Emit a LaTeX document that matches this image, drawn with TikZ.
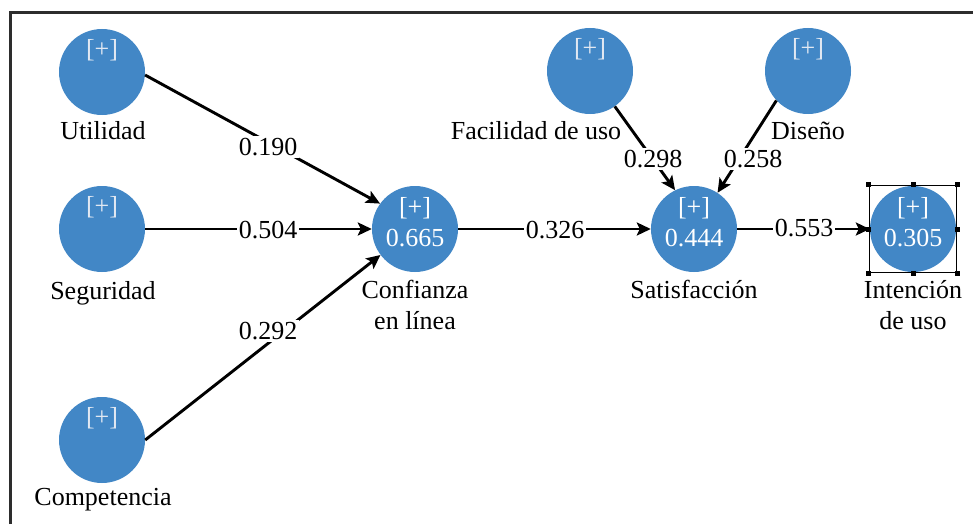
\documentclass[tikz,border=0pt]{standalone}
\usepackage{fontspec}
\setmainfont{Liberation Serif}
\usetikzlibrary{arrows.meta,calc}
\definecolor{lvblue}{RGB}{66,135,198}
\definecolor{plusgray}{RGB}{225,232,242}
\definecolor{framegray}{RGB}{45,45,45}
\begin{document}
\begin{tikzpicture}[x=1pt,y=-1pt,
  lv/.style={circle,fill=lvblue,minimum size=86pt,inner sep=0pt},
  txt/.style={font=\fontsize{26}{30}\selectfont,inner sep=0pt},
  lvname/.style={txt,anchor=base},
  plus/.style={txt,text=plusgray},
  val/.style={txt,text=white},
  coef/.style={txt,fill=white,inner sep=2pt},
  edge/.style={line width=2.9pt,-{Stealth[length=14pt,width=13pt,inset=3pt]}},
  handle/.style={fill=black,minimum size=5pt,inner sep=0pt}]
\useasboundingbox (0,0) rectangle (973,524);
% frame
\draw[line width=3pt,framegray] (10,524) -- (10,13) -- (973,13);

% latent variables
\node[lv] (util) at (102,72) {};
\node[lv] (seg)  at (102,229) {};
\node[lv] (comp) at (102,440) {};
\node[lv] (conf) at (415,229) {};
\node[lv] (fac)  at (590,71) {};
\node[lv] (dis)  at (808,71) {};
\node[lv] (sat)  at (694,229) {};
\node[lv] (intn) at (913,229) {};

% texts inside circles
\node[plus] (p1) at ($(util)+(0,-22)$) {[+]};
\node[plus] (p2) at ($(seg)+(0,-22)$) {[+]};
\node[plus] (p3) at ($(comp)+(0,-22)$) {[+]};
\node[plus] (p4) at ($(fac)+(0,-22)$) {[+]};
\node[plus] (p5) at ($(dis)+(0,-22)$) {[+]};
\node[val] (p6) at ($(conf)+(0,-21)$) {[+]};
\node[val] (v6) at ($(conf)+(0,9)$) {0.665};
\node[val] (p7) at ($(sat)+(0,-21)$) {[+]};
\node[val] (v7) at ($(sat)+(0,9)$) {0.444};
\node[val] (p8) at ($(intn)+(0,-21)$) {[+]};
\node[val] (v8) at ($(intn)+(0,9)$) {0.305};

% names
\node[lvname] (nutil) at (103,139) {Utilidad};
\node[lvname] (nseg)  at (103,299) {Seguridad};
\node[lvname] (ncomp) at (103,505) {Competencia};
\node[lvname] (nconf1) at (415,298) {Confianza};
\node[lvname] (nconf2) at (415,329) {en línea};
\node[lvname] (nfac) at (536,139) {Facilidad de uso};
\node[lvname] (ndis) at (808,139) {Diseño};
\node[lvname] (nsat) at (694,298) {Satisfacción};
\node[lvname] (nint1) at (913,298) {Intención};
\node[lvname] (nint2) at (913,329) {de uso};

% connectors
\draw[edge] (util.-4) -- (conf.144);
\draw[edge] (seg.east) -- (conf.west);
\draw[edge] (comp.east) -- (conf.217);
\draw[edge] (conf.east) -- (sat.west);
\draw[edge] (fac.-55) -- (sat.116);
\draw[edge] (dis.223) -- (sat.57);
\draw[edge] (sat.east) -- (intn.west);

% coefficients
\node[coef] (c1) at (268,147) {0.190};
\node[coef] (c2) at (268,230) {0.504};
\node[coef] (c3) at (268,331) {0.292};
\node[coef] (c4) at (555,230) {0.326};
\node[coef] (c5) at (653,159) {0.298};
\node[coef] (c6) at (753,159) {0.258};
\node[coef] (c7) at (804,228) {0.553};

% selection box
\node[draw,line width=1.2pt,minimum size=87pt,inner sep=0pt] (selbox) at (intn) {};
\foreach \a [count=\i] in {north west,north,north east,east,south east,south,south west,west}
  \node[handle] (h\i) at (selbox.\a) {};
\end{tikzpicture}
\end{document}
